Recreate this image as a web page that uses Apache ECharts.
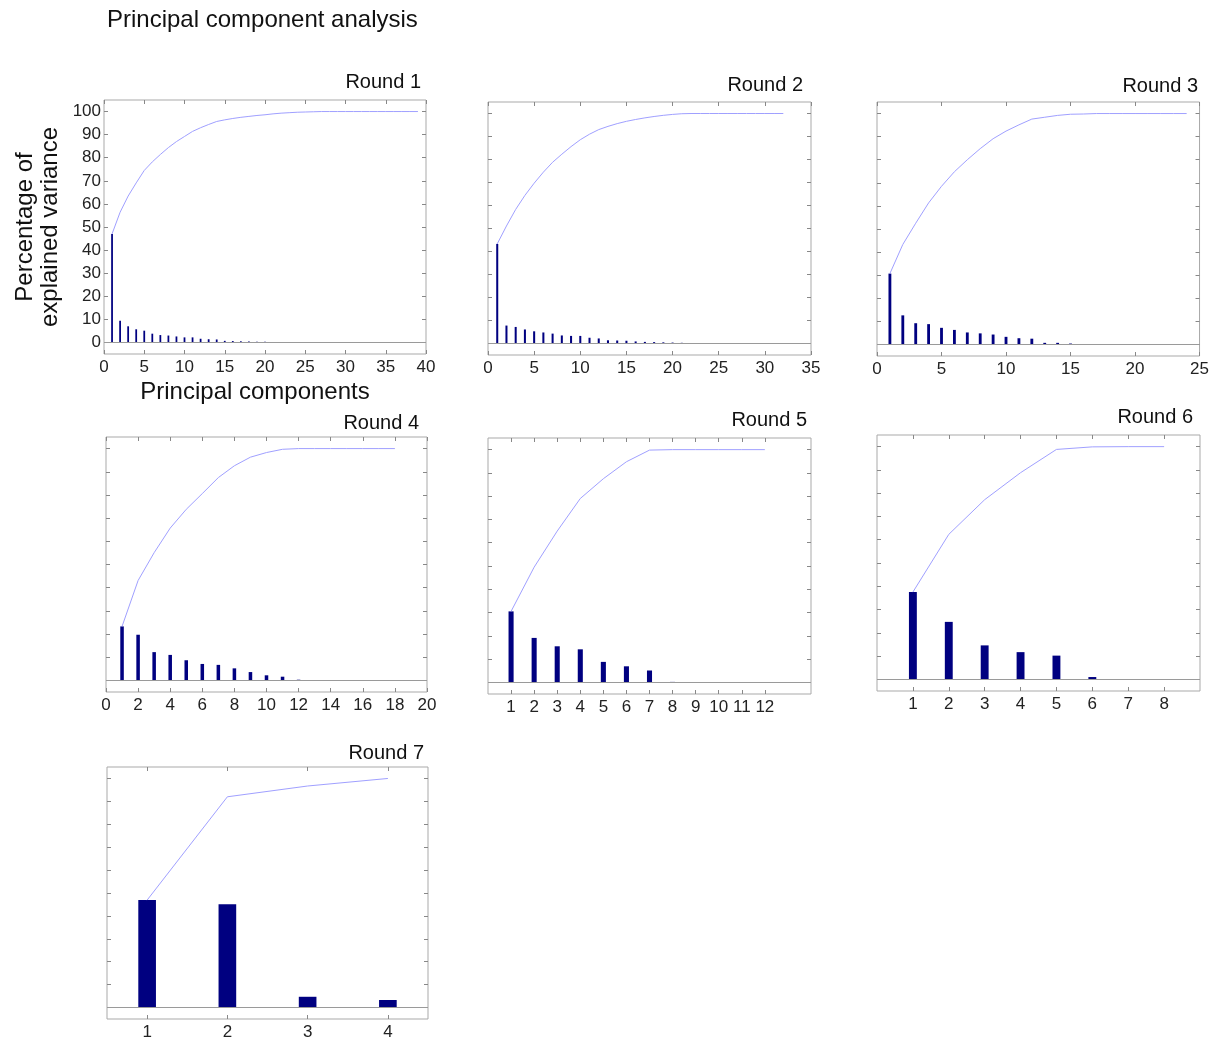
<!DOCTYPE html>
<html>
<head>
<meta charset="utf-8">
<script src="https://cdn.jsdelivr.net/npm/echarts@6/dist/echarts.min.js"></script>
<style>
html,body{margin:0;padding:0;background:#fff;}
#chart{width:1212px;height:1041px;}
</style>
</head>
<body>
<div id="chart"></div>
<script>
// ---------- DATA ----------
const mainTitle = 'Principal component analysis';
const roundTitles = ['Round 1','Round 2','Round 3','Round 4','Round 5','Round 6','Round 7'];
const yAxisName = 'Percentage of\nexplained variance';
const xAxisName = 'Principal components';
const yTicks = [0,10,20,30,40,50,60,70,80,90,100];

// Round 1
const r1Bars = [47,9.4,7.0,5.7,5.1,3.8,3.2,3.0,2.6,2.2,2.2,1.6,1.4,1.3,0.7,0.6,0.5,0.4,0.35,0.3,0.25,0.2,0.15,0.1,0.1,0.05];
const r1Cum = [47,56.4,63.4,69.1,74.5,78.2,81.4,84.4,87.0,89.2,91.4,93.0,94.4,95.7,96.4,97.0,97.5,97.9,98.3,98.6,99.0,99.3,99.5,99.7,99.8,99.9,100,100,100,100,100,100,100,100,100,100,100,100,100];
const r1XTicks = [0,5,10,15,20,25,30,35,40];
// Round 2
const r2Bars = [43.3,7.8,7.2,6.1,5.3,4.8,4.3,3.5,3.3,3.3,2.5,2.2,1.4,1.3,1.2,0.9,0.7,0.6,0.5,0.4,0.3,0.2];
const r2Cum = [43.3,51.1,58.3,64.4,69.7,74.5,78.8,82.3,85.6,88.6,91.0,93.0,94.4,95.6,96.6,97.4,98.1,98.7,99.2,99.6,99.9,100,100,100,100,100,100,100,100,100,100,100];
const r2XTicks = [0,5,10,15,20,25,30,35];
// Round 3
const r3Bars = [30.7,12.6,9.2,8.8,7.2,6.3,5.2,4.8,4.3,3.3,2.7,2.5,0.7,0.7,0.4];
const r3Cum = [30.7,43.3,52.5,61.3,68.5,74.8,80.0,84.8,89.1,92.4,95.1,97.6,98.4,99.2,99.7,99.8,100,100,100,100,100,100,100,100];
const r3XTicks = [0,5,10,15,20,25];
// Round 4
const r4Bars = [23.3,19.7,12.2,11.0,8.7,7.1,6.7,5.2,3.6,2.2,1.6,0.3,0.15];
const r4Cum = [23.3,43.1,55.1,65.7,73.8,80.6,87.5,92.6,96.3,98.3,99.7,100,100,100,100,100,100,100];
const r4XTicks = [0,2,4,6,8,10,12,14,16,18,20];
// Round 5
const r5Bars = [30.5,19.1,15.5,14.2,8.8,6.9,5.1,0.2,0.1];
const r5Cum = [30.5,49.5,65.0,79.0,87.5,94.8,99.8,100,100,100,100,100];
const r5XTicks = [1,2,3,4,5,6,7,8,9,10,11,12];
// Round 6
const r6Bars = [37.5,24.7,14.6,11.7,10.2,1.0];
const r6Cum = [37.5,62.3,77.2,88.8,98.8,99.9,100,100];
const r6XTicks = [1,2,3,4,5,6,7,8];
// Round 7
const r7Bars = [46.9,45.1,4.7,3.3];
const r7Cum = [46.9,92.0,96.7,100];
const r7XTicks = [1,2,3,4];

// ---------- LAYOUT / STYLE ----------
const FONT = '"Liberation Sans", Arial, Helvetica, sans-serif';
const panels = [
  {rect:[104,100,322,254], x:[0,40,5], bars:r1Bars, cum:r1Cum, ticks:r1XTicks, title:[421,82]},
  {rect:[488,102,323,253], x:[0,35,5], bars:r2Bars, cum:r2Cum, ticks:r2XTicks, title:[803,85]},
  {rect:[877,102,323,254], x:[0,25,5], bars:r3Bars, cum:r3Cum, ticks:r3XTicks, title:[1198,86]},
  {rect:[106,437,321,255], x:[0,20,2], bars:r4Bars, cum:r4Cum, ticks:r4XTicks, title:[419,423]},
  {rect:[488,438,323,256], x:[0,14,null], bars:r5Bars, cum:r5Cum, ticks:r5XTicks, title:[807,420]},
  {rect:[877,435,323,256], x:[0,9,null], bars:r6Bars, cum:r6Cum, ticks:r6XTicks, title:[1193,417]},
  {rect:[107,767,321,256], x:[0.5,4.5,null], bars:r7Bars, cum:r7Cum, ticks:r7XTicks, title:[424,753]}
];

const grid = [], xAxis = [], yAxis = [], series = [];
const title = [{
  text: mainTitle, left: 107, top: 20, padding: 0, textVerticalAlign: 'middle',
  textStyle: {fontFamily: FONT, fontSize: 24, fontWeight: 'normal', color: '#111'}
}];

const tickStyle = {inside: true, length: 4, lineStyle: {color: '#888', width: 1}};

panels.forEach((p, i) => {
  const [l, t, w, h] = p.rect;
  grid.push({left: l, top: t, width: w, height: h, show: true,
    borderColor: '#a9a9a9', borderWidth: 1, backgroundColor: '#fff', containLabel: false});

  const xBase = {type: 'value', gridIndex: i, min: p.x[0], max: p.x[1], splitLine: {show: false},
    axisLine: {show: false, onZero: false}};
  if (p.x[2] != null) xBase.interval = p.x[2];
  xAxis.push(Object.assign({}, xBase, {
    position: 'bottom',
    axisTick: Object.assign({}, tickStyle, {customValues: p.ticks}),
    axisLabel: {show: true, customValues: p.ticks, fontFamily: FONT, fontSize: 17, color: '#222', margin: 5},
    name: i === 0 ? xAxisName : '',
    nameLocation: 'middle', nameGap: 26,
    nameTextStyle: {fontFamily: FONT, fontSize: 24, color: '#111', padding: [0, 20, 0, 0]}
  }));
  xAxis.push(Object.assign({}, xBase, {
    position: 'top',
    axisTick: Object.assign({}, tickStyle, {customValues: p.ticks}),
    axisLabel: {show: false}
  }));

  const yBase = {type: 'value', gridIndex: i, min: -5, max: 105, splitLine: {show: false},
    axisLine: {show: false, onZero: false}};
  yAxis.push(Object.assign({}, yBase, {
    position: 'left',
    axisTick: Object.assign({}, tickStyle, {customValues: yTicks}),
    axisLabel: {show: i === 0, customValues: yTicks, fontFamily: FONT, fontSize: 17, color: '#222', margin: 3},
    name: i === 0 ? yAxisName : '',
    nameLocation: 'middle', nameRotate: 90, nameGap: 41,
    nameTextStyle: {fontFamily: FONT, fontSize: 24, lineHeight: 25, color: '#111'}
  }));
  yAxis.push(Object.assign({}, yBase, {
    position: 'right',
    axisTick: Object.assign({}, tickStyle, {customValues: yTicks}),
    axisLabel: {show: false}
  }));

  series.push({
    type: 'bar', xAxisIndex: 2 * i, yAxisIndex: 2 * i,
    data: p.bars.map((v, k) => [k + 1, v]),
    barWidth: '22%',
    itemStyle: {color: '#000080'},
    markLine: {silent: true, symbol: ['none', 'none'], label: {show: false},
      lineStyle: {color: '#9a9a9a', width: 1, type: 'solid'}, data: [{yAxis: 0}]}
  });
  series.push({
    type: 'line', xAxisIndex: 2 * i, yAxisIndex: 2 * i,
    data: p.cum.map((v, k) => [k + 1, v]),
    showSymbol: false, symbol: 'none',
    lineStyle: {color: '#a0a0ff', width: 1}
  });

  title.push({
    text: roundTitles[i], left: p.title[0], top: p.title[1], padding: 0,
    textAlign: 'right', textVerticalAlign: 'middle',
    textStyle: {fontFamily: FONT, fontSize: 20, fontWeight: 'normal', color: '#111'}
  });
});

const chart = echarts.init(document.getElementById('chart'), null, {renderer: 'canvas'});
chart.setOption({
  animation: false,
  backgroundColor: '#fff',
  title: title,
  grid: grid,
  xAxis: xAxis,
  yAxis: yAxis,
  series: series
});
</script>
</body>
</html>
